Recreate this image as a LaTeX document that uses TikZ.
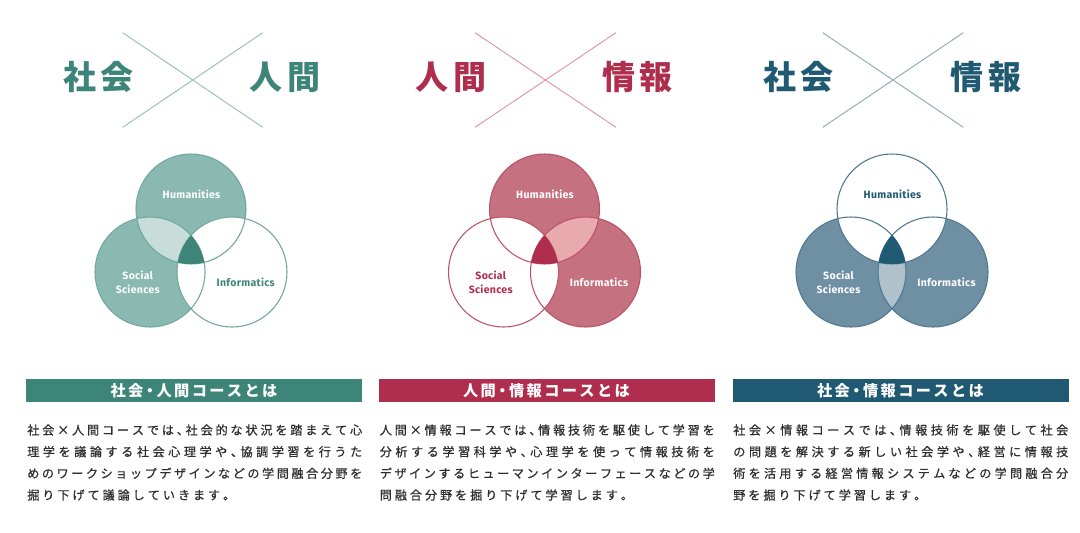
\documentclass[tikz,border=0pt]{standalone}
\usepackage{fontspec}
\newfontfamily\jp{Noto Sans CJK JP}
\newfontfamily\jpm{Noto Sans CJK JP}[FakeBold=0.6]
\newfontfamily\lab{Fira Sans}[LetterSpace=3]
\definecolor{tdark}{HTML}{3E8579}
\definecolor{tmid}{HTML}{8AB9B2}
\definecolor{tlight}{HTML}{C8DCD9}
\definecolor{tline}{HTML}{6FA79E}
\definecolor{tx}{HTML}{95C0BA}
\definecolor{rdark}{HTML}{AF2E4D}
\definecolor{rmid}{HTML}{C6717F}
\definecolor{rlight}{HTML}{E9AAAE}
\definecolor{rline}{HTML}{BC5369}
\definecolor{rx}{HTML}{DC97A5}
\definecolor{bdark}{HTML}{1F5A72}
\definecolor{bmid}{HTML}{6F8FA2}
\definecolor{blight}{HTML}{AFC2CB}
\definecolor{bline}{HTML}{4F7890}
\definecolor{bx}{HTML}{8FAABA}
\definecolor{bodytext}{HTML}{2E2E2E}
\def\spreadA#1{#1\spreadB}
\def\spreadB#1{\ifx\relax#1\else\spgap#1\expandafter\spreadB\fi}
\newcommand\spaced[2]{\begingroup\def\spgap{\hskip#1\relax}\spreadA#2\relax\endgroup}
\newcommand\justline[1]{\hbox to 251.25pt{\def\spgap{\hfil}\spreadA#1\relax}}
\def\tc{\makebox[0.5em][l]{、}}
\def\md{\makebox[0.55em][c]{・}}
\tikzset{
  hd/.style={inner sep=0pt, font=\jp\bfseries\fontsize{24.75pt}{26pt}\selectfont},
  xline/.style={line width=0.7pt},
  banner/.style={inner sep=0pt, minimum width=252pt, minimum height=17.25pt, text=white, font=\jp\bfseries\fontsize{11.4pt}{12pt}\selectfont},
  bodyline/.style={anchor=west, inner sep=0pt, text=bodytext, font=\jpm\fontsize{9.1pt}{10pt}\selectfont},
  vlab/.style={inner sep=0pt, font=\lab\bfseries\fontsize{7.9pt}{9pt}\selectfont},
}
\begin{document}
\begin{tikzpicture}[x=0.75pt,y=-0.75pt]
\useasboundingbox (0,0) rectangle (1080,532);
\fill[white] (0,0) rectangle (1080,532);
% ---------- headers ----------
\coordinate (x1a) at (122.7,32.7); \coordinate (x1b) at (262.7,127.3);
\coordinate (x1c) at (262.7,32.7); \coordinate (x1d) at (122.7,127.3);
\draw[xline, tx] (x1a) -- (x1b); \draw[xline, tx] (x1c) -- (x1d);
\node[hd, text=tdark] (h1a) at (98.5,77) {\spaced{3.75pt}{社会}};
\node[hd, text=tdark] (h1b) at (285,77) {\spaced{3.75pt}{人間}};
\coordinate (x2a) at (475,32.7); \coordinate (x2b) at (616,127.3);
\coordinate (x2c) at (616,32.7); \coordinate (x2d) at (475,127.3);
\draw[xline, rx] (x2a) -- (x2b); \draw[xline, rx] (x2c) -- (x2d);
\node[hd, text=rdark] (h2a) at (451,77) {\spaced{3.75pt}{人間}};
\node[hd, text=rdark] (h2b) at (637.5,77) {\spaced{3.75pt}{情報}};
\coordinate (x3a) at (822.7,32.7); \coordinate (x3b) at (963.3,127.3);
\coordinate (x3c) at (963.3,32.7); \coordinate (x3d) at (822.7,127.3);
\draw[xline, bx] (x3a) -- (x3b); \draw[xline, bx] (x3c) -- (x3d);
\node[hd, text=bdark] (h3a) at (798.5,77) {\spaced{3.75pt}{社会}};
\node[hd, text=bdark] (h3b) at (986,77) {\spaced{3.75pt}{情報}};
% ---------- venn 1 ----------
\coordinate (hu1) at (191,209); \coordinate (so1) at (150,272); \coordinate (in1) at (232,272);
\fill[tmid] (hu1) circle[radius=55] (so1) circle[radius=55];
\begin{scope}\clip (hu1) circle[radius=55]; \fill[tlight] (so1) circle[radius=55];\end{scope}
\fill[white] (in1) circle[radius=55];
\draw[tline, line width=0.8pt] (hu1) circle[radius=55] (so1) circle[radius=55] (in1) circle[radius=55];
\begin{scope}\clip (hu1) circle[radius=55]; \clip (so1) circle[radius=55]; \fill[tdark] (in1) circle[radius=55];\end{scope}
\node[vlab, text=white] (l1h) at (191.5,194) {Humanities};
\node[vlab, text=white, align=center] (l1s) at (137.7,282.5) {Social\\[1.2pt]Sciences};
\node[vlab, text=tdark] (l1i) at (245.7,282.7) {Informatics};
% ---------- venn 2 ----------
\coordinate (hu2) at (544.5,209); \coordinate (so2) at (503.5,272); \coordinate (in2) at (585.5,272);
\fill[rmid] (hu2) circle[radius=55] (in2) circle[radius=55];
\begin{scope}\clip (hu2) circle[radius=55]; \fill[rlight] (in2) circle[radius=55];\end{scope}
\fill[white] (so2) circle[radius=55];
\draw[rline, line width=0.8pt] (hu2) circle[radius=55] (so2) circle[radius=55] (in2) circle[radius=55];
\begin{scope}\clip (hu2) circle[radius=55]; \clip (so2) circle[radius=55]; \fill[rdark] (in2) circle[radius=55];\end{scope}
\node[vlab, text=white] (l2h) at (545,194) {Humanities};
\node[vlab, text=rdark, align=center] (l2s) at (490.7,282.5) {Social\\[1.2pt]Sciences};
\node[vlab, text=white] (l2i) at (599,282.7) {Informatics};
% ---------- venn 3 ----------
\coordinate (hu3) at (892,209); \coordinate (so3) at (851,272); \coordinate (in3) at (933,272);
\fill[bmid] (so3) circle[radius=55] (in3) circle[radius=55];
\begin{scope}\clip (so3) circle[radius=55]; \fill[blight] (in3) circle[radius=55];\end{scope}
\fill[white] (hu3) circle[radius=55];
\draw[bline, line width=0.8pt] (hu3) circle[radius=55] (so3) circle[radius=55] (in3) circle[radius=55];
\begin{scope}\clip (hu3) circle[radius=55]; \clip (so3) circle[radius=55]; \fill[bdark] (in3) circle[radius=55];\end{scope}
\node[vlab, text=bdark] (l3h) at (892.5,194) {Humanities};
\node[vlab, text=white, align=center] (l3s) at (838.5,282.5) {Social\\[1.2pt]Sciences};
\node[vlab, text=white] (l3i) at (946.5,282.7) {Informatics};
% ---------- banners ----------
\node[banner, fill=tdark] (b1) at (194,390.5) {\spaced{1.8pt}{社会\md 人間コースとは}};
\node[banner, fill=rdark] (b2) at (546.5,390.5) {\spaced{1.8pt}{人間\md 情報コースとは}};
\node[banner, fill=bdark] (b3) at (900.5,390.5) {\spaced{1.8pt}{社会\md 情報コースとは}};
% ---------- body text ----------
\node[bodyline] (t1a) at (27,430) {\justline{社会×人間コースでは\tc 社会的な状況を踏まえて心}};
\node[bodyline] (t1b) at (27,451.7) {\justline{理学を議論する社会心理学や\tc 協調学習を行うた}};
\node[bodyline] (t1c) at (27,473.3) {\justline{めのワークショップデザインなどの学問融合分野を}};
\node[bodyline] (t1d) at (27,495) {\spaced{2.2pt}{掘り下げて議論していきます。}};
\node[bodyline] (t2a) at (379.5,430) {\justline{人間×情報コースでは\tc 情報技術を駆使して学習を}};
\node[bodyline] (t2b) at (379.5,451.7) {\justline{分析する学習科学や\tc 心理学を使って情報技術を}};
\node[bodyline] (t2c) at (379.5,473.3) {\justline{デザインするヒューマンインターフェースなどの学}};
\node[bodyline] (t2d) at (379.5,495) {\spaced{2.2pt}{問融合分野を掘り下げて学習します。}};
\node[bodyline] (t3a) at (733,430) {\justline{社会×情報コースでは\tc 情報技術を駆使して社会}};
\node[bodyline] (t3b) at (733,451.7) {\justline{の問題を解決する新しい社会学や\tc 経営に情報技}};
\node[bodyline] (t3c) at (733,473.3) {\justline{術を活用する経営情報システムなどの学問融合分}};
\node[bodyline] (t3d) at (733,495) {\spaced{2.2pt}{野を掘り下げて学習します。}};
\end{tikzpicture}
\end{document}
